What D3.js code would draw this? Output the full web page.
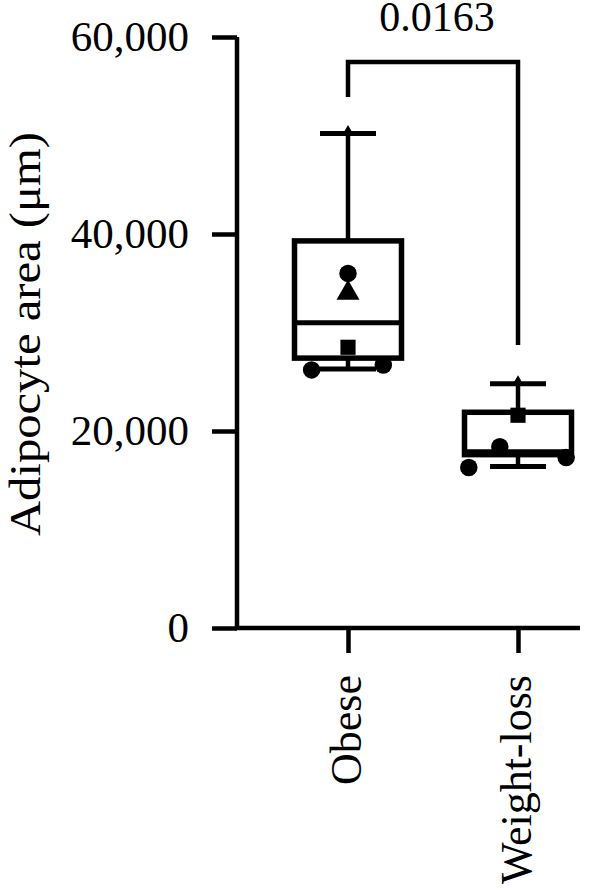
<!DOCTYPE html>
<html><head><meta charset="utf-8">
<script src="https://cdn.jsdelivr.net/npm/d3@7"></script>
<style>body{margin:0;background:#fff}svg{display:block}text{font-family:"Liberation Serif","Times New Roman",serif;fill:#000}</style>
</head><body>
<script>
const categories = ["Obese", "Weight-loss"];
const mins = [26300, 16400];
const q1s = [27400, 17600];
const medians = [31000, 17900];
const q3s = [39300, 21900];
const maxs = [50200, 24800];
const obeseValues = [50200, 36000, 34000, 28500, 26700, 26200];
const obeseShapes = ["triangle", "circle", "triangle", "square", "circle", "circle"];
const obeseJitter = [0, 0, 0, 0, 0.33, -0.34];
const wlValues = [24800, 21600, 18400, 17300, 16300];
const wlShapes = ["triangle", "square", "circle", "circle", "circle"];
const wlJitter = [0, 0, -0.17, 0.45, -0.46];
const yTicks = [0, 20000, 40000, 60000];
const pLabel = "0.0163";
const yTitle = "Adipocyte area (μm)";

const W = 600, H = 893;
const svg = d3.select("body").append("svg").attr("width", W).attr("height", H);
const y = d3.scaleLinear().domain([0, 60000]).range([628, 37]);
const x = d3.scalePoint().domain(categories).range([348, 518]);
const boxW = 107;
const FS = 43;

// y axis
const yAxis = svg.append("g").attr("transform", "translate(237,0)")
  .call(d3.axisLeft(y).tickValues(yTicks).tickSize(25).tickPadding(23).tickFormat(d3.format(",")));
yAxis.select(".domain").attr("stroke-width", 4.5).attr("d", `M0,${y(60000)}V${y(0)}`);
yAxis.selectAll(".tick line").attr("stroke-width", 4.5);
yAxis.selectAll(".tick text").attr("font-size", FS).attr("font-family", "Liberation Serif");

// x axis
const xAxis = svg.append("g").attr("transform", `translate(0,${y(0)})`)
  .call(d3.axisBottom(x).tickSize(25).tickSizeOuter(0).tickPadding(14));
xAxis.select(".domain").attr("stroke-width", 4.5).attr("d", "M235,0H580");
xAxis.selectAll(".tick line").attr("stroke-width", 4.5);
xAxis.selectAll(".tick text").attr("font-size", 44).attr("font-family", "Liberation Serif")
  .attr("transform", "rotate(-90)").attr("text-anchor", "end")
  .attr("x", -47).attr("y", 0).attr("dy", "0.28em");

// y title
svg.append("text").attr("transform", `translate(40,334) rotate(-90)`)
  .attr("text-anchor", "middle").attr("font-size", 44)
  .attr("textLength", 404).attr("lengthAdjust", "spacingAndGlyphs").text(yTitle);

// boxes
const g = svg.append("g");
categories.forEach((c, i) => {
  const cx = x(c);
  g.append("line").attr("x1", cx).attr("x2", cx).attr("y1", y(maxs[i])).attr("y2", y(q3s[i]))
    .attr("stroke", "#000").attr("stroke-width", 4.5);
  g.append("line").attr("x1", cx).attr("x2", cx).attr("y1", y(q1s[i])).attr("y2", y(mins[i]))
    .attr("stroke", "#000").attr("stroke-width", 4.5);
  [maxs[i], mins[i]].forEach(v => g.append("line").attr("x1", cx - 28).attr("x2", cx + 28)
    .attr("y1", y(v)).attr("y2", y(v)).attr("stroke", "#000").attr("stroke-width", 5));
  g.append("rect").attr("x", cx - boxW/2).attr("width", boxW).attr("y", y(q3s[i]))
    .attr("height", y(q1s[i]) - y(q3s[i])).attr("fill", "none").attr("stroke", "#000").attr("stroke-width", 5.5);
  g.append("line").attr("x1", cx - boxW/2).attr("x2", cx + boxW/2).attr("y1", y(medians[i])).attr("y2", y(medians[i]))
    .attr("stroke", "#000").attr("stroke-width", 5);
});

const sym = {circle: d3.symbolCircle, triangle: d3.symbolTriangle, square: d3.symbolSquare};
function drawPts(vals, shapes, jit, c) {
  vals.forEach((v, k) => {
    const atMax = k === 0;
    const sz = atMax ? 40 : (shapes[k] === "circle" ? 240 : 230);
    g.append("path").attr("d", d3.symbol().type(sym[shapes[k]]).size(sz)())
      .attr("transform", `translate(${x(c) + jit[k]*boxW},${y(v) - (atMax ? 3 : 0)})`).attr("fill", "#000");
  });
}
drawPts(obeseValues, obeseShapes, obeseJitter, categories[0]);
drawPts(wlValues, wlShapes, wlJitter, categories[1]);

// significance bracket
const by = 62;
svg.append("path").attr("d", `M${x(categories[0])},${97}V${by}H${x(categories[1])}V${345}`)
  .attr("fill", "none").attr("stroke", "#000").attr("stroke-width", 4.5);
svg.append("text").attr("x", 437).attr("y", 31)
  .attr("text-anchor", "middle").attr("font-size", 42).text(pLabel);
</script>
</body></html>
